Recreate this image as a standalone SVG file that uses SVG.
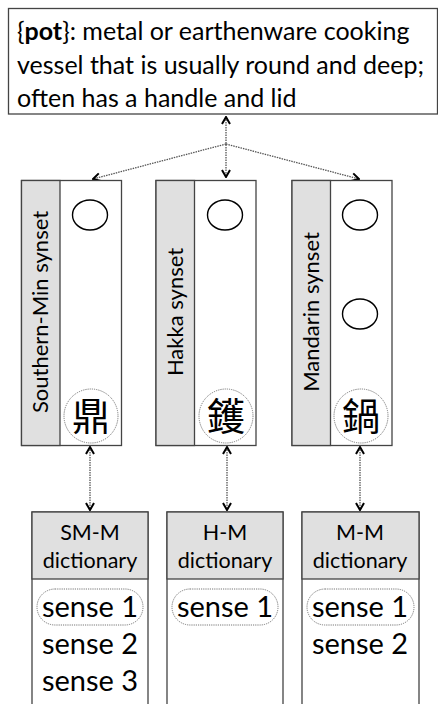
<svg xmlns="http://www.w3.org/2000/svg" width="438" height="704" viewBox="0 0 438 704">
<defs>
<marker id="ah" viewBox="0 0 10 10" refX="9" refY="5" markerWidth="10" markerHeight="10" markerUnits="userSpaceOnUse" orient="auto-start-reverse">
<path d="M2,1 L9,5 L2,9" fill="none" stroke="#000" stroke-width="2"/>
</marker>
<style>
.box{fill:#fff;stroke:#444;stroke-width:1.3}
.gray{fill:#e0e0e0;stroke:#444;stroke-width:1.3}
.t{font-family:Lato,"Liberation Sans",sans-serif;fill:#000}
.conn{fill:none;stroke:#555;stroke-width:1.3;stroke-dasharray:1.5 1}
.dot{fill:none;stroke:#777;stroke-width:1;stroke-dasharray:1.2 1}
.oval{fill:none;stroke:#000;stroke-width:1.4}
.cjk{font-family:"Noto Sans CJK TC","Noto Sans CJK SC",sans-serif;font-size:38px;fill:#000}
</style>
</defs>

<g id="gloss">
<rect class="box" x="8.5" y="8.5" width="429" height="105.5"/>
<text class="t" font-size="25" x="17" y="40">{<tspan font-weight="bold">pot</tspan>}: metal or earthenware cooking</text>
<text class="t" font-size="25" x="17" y="74">vessel that is usually round and deep;</text>
<text class="t" font-size="25" x="17" y="107">often has a handle and lid</text>
</g>

<g id="connectors">
<line class="conn" x1="226" y1="117" x2="226" y2="177" marker-start="url(#ah)" marker-end="url(#ah)"/>
<line class="conn" x1="226" y1="144" x2="93" y2="179" marker-end="url(#ah)"/>
<line class="conn" x1="226" y1="144" x2="359" y2="179" marker-end="url(#ah)"/>
<line class="conn" x1="90" y1="447" x2="90" y2="510" marker-start="url(#ah)" marker-end="url(#ah)"/>
<line class="conn" x1="227" y1="447" x2="227" y2="510" marker-start="url(#ah)" marker-end="url(#ah)"/>
<line class="conn" x1="360" y1="447" x2="360" y2="510" marker-start="url(#ah)" marker-end="url(#ah)"/>
</g>

<g id="synset-sm">
<rect class="box" x="21.5" y="180.5" width="100" height="265"/>
<rect class="gray" x="21.5" y="180.5" width="38.5" height="265"/>
<text class="t" font-size="22" text-anchor="middle" transform="translate(47.5,312) rotate(-90)">Southern-Min synset</text>
<ellipse class="oval" cx="90" cy="215" rx="17.5" ry="15"/>
<circle class="dot" cx="91" cy="416" r="27"/>
<text class="cjk" x="91" y="430" text-anchor="middle">鼎</text>
</g>

<g id="synset-hakka">
<rect class="box" x="156" y="180.5" width="100" height="265"/>
<rect class="gray" x="156" y="180.5" width="38.5" height="265"/>
<text class="t" font-size="22" text-anchor="middle" transform="translate(182.5,312) rotate(-90)">Hakka synset</text>
<ellipse class="oval" cx="225" cy="215" rx="17.5" ry="15"/>
<circle class="dot" cx="226" cy="416" r="27"/>
<text class="cjk" x="226" y="430" text-anchor="middle">鑊</text>
</g>

<g id="synset-mandarin">
<rect class="box" x="292" y="180.5" width="100" height="265"/>
<rect class="gray" x="292" y="180.5" width="38.5" height="265"/>
<text class="t" font-size="22" text-anchor="middle" transform="translate(318.5,312) rotate(-90)">Mandarin synset</text>
<ellipse class="oval" cx="360" cy="215" rx="17.5" ry="15"/>
<ellipse class="oval" cx="360" cy="314" rx="17.5" ry="15"/>
<circle class="dot" cx="361" cy="416" r="27"/>
<text class="cjk" x="361" y="430" text-anchor="middle">鍋</text>
</g>

<g id="dict-sm">
<rect class="box" x="32" y="512" width="116" height="200"/>
<rect class="gray" x="32" y="512" width="116" height="67"/>
<text class="t" font-size="21.5" text-anchor="middle" x="90" y="540">SM-M</text>
<text class="t" font-size="21.5" text-anchor="middle" x="90" y="568">dictionary</text>
<rect class="dot" x="37" y="589" width="106" height="36" rx="18"/>
<text class="t" font-size="29" text-anchor="middle" x="90" y="617">sense 1</text>
<text class="t" font-size="29" text-anchor="middle" x="90" y="654">sense 2</text>
<text class="t" font-size="29" text-anchor="middle" x="90" y="691">sense 3</text>
</g>

<g id="dict-h">
<rect class="box" x="167" y="512" width="116" height="200"/>
<rect class="gray" x="167" y="512" width="116" height="67"/>
<text class="t" font-size="21.5" text-anchor="middle" x="225" y="540">H-M</text>
<text class="t" font-size="21.5" text-anchor="middle" x="225" y="568">dictionary</text>
<rect class="dot" x="172" y="589" width="106" height="36" rx="18"/>
<text class="t" font-size="29" text-anchor="middle" x="225" y="617">sense 1</text>
</g>

<g id="dict-m">
<rect class="box" x="302" y="512" width="117" height="200"/>
<rect class="gray" x="302" y="512" width="117" height="67"/>
<text class="t" font-size="21.5" text-anchor="middle" x="360" y="540">M-M</text>
<text class="t" font-size="21.5" text-anchor="middle" x="360" y="568">dictionary</text>
<rect class="dot" x="307" y="589" width="107" height="36" rx="18"/>
<text class="t" font-size="29" text-anchor="middle" x="360" y="617">sense 1</text>
<text class="t" font-size="29" text-anchor="middle" x="360" y="654">sense 2</text>
</g>
</svg>
